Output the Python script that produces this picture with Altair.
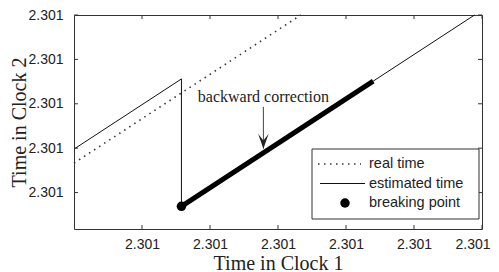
import altair as alt
import pandas as pd

# ---- data (axis units: tick k <-> k-th tick) ----
real_x = [0.0, 3.336]
real_y = [1.664, 5.0]

est_x = [0.0, 1.58, 1.58, 4.40, 5.89]
est_y = [1.98, 3.56, 0.69, 3.51, 5.0]

bold_x = [1.58, 4.40]
bold_y = [0.69, 3.51]

break_x = [1.58]
break_y = [0.69]

x_ticks = [1, 2, 3, 4, 5, 6]
y_ticks = [1, 2, 3, 4, 5]
tick_label = "2.301"

annot_text = ["backward correction"]
annot_x = [2.785]
annot_y = [3.05]
arrow_x = [2.785, 2.785]
arrow_y = [2.93, 1.99]

legend_labels = ["real time", "estimated time", "breaking point"]

W, H = 408, 214
XDOM = [0, 6]
YDOM = [0.18, 5]
LINE = "#111111"

xs = alt.Scale(domain=XDOM, nice=False, zero=False)
ys = alt.Scale(domain=YDOM, nice=False, zero=False)

xaxis = alt.Axis(values=x_ticks, labelExpr=f"'{tick_label}'", title="Time in Clock 1",
                 ticks=False, domain=False, grid=False, labelPadding=8,
                 labelFont="Liberation Sans", labelFontSize=14, labelColor="#222",
                 labelFlush=True, labelFlushOffset=8, labelOverlap=False, labelBound=False,
                 titleFont="Liberation Serif", titleFontSize=20, titleFontWeight="normal",
                 titleColor="#222", titlePadding=2)
yaxis = alt.Axis(values=y_ticks, labelExpr=f"'{tick_label}'", title="Time in Clock 2",
                 ticks=False, domain=False, grid=False, labelPadding=11,
                 labelFont="Liberation Sans", labelFontSize=14, labelColor="#222",
                 labelFlush=False, labelOverlap=False, labelBound=False,
                 titleFont="Liberation Serif", titleFontSize=20, titleFontWeight="normal",
                 titleColor="#222", titlePadding=-2)

real_df = pd.DataFrame({"x": real_x, "y": real_y, "o": range(len(real_x))})
est_df = pd.DataFrame({"x": est_x, "y": est_y, "o": range(len(est_x))})
bold_df = pd.DataFrame({"x": bold_x, "y": bold_y, "o": range(len(bold_x))})
brk_df = pd.DataFrame({"x": break_x, "y": break_y})
ann_df = pd.DataFrame({"x": annot_x, "y": annot_y, "t": annot_text})
arr_df = pd.DataFrame({"x": arrow_x, "y": arrow_y, "o": range(len(arrow_x))})
arr_tip = pd.DataFrame({"x": [arrow_x[-1]], "y": [arrow_y[-1]]})
xt_df = pd.DataFrame({"x": x_ticks})
yt_df = pd.DataFrame({"y": y_ticks})

real = alt.Chart(real_df).mark_line(color="#333", strokeWidth=1.6, strokeDash=[1.5, 4.5]).encode(
    x=alt.X("x:Q", scale=xs, axis=xaxis), y=alt.Y("y:Q", scale=ys, axis=yaxis), order="o:Q")
est = alt.Chart(est_df).mark_line(color=LINE, strokeWidth=1).encode(
    x=alt.X("x:Q", scale=xs), y=alt.Y("y:Q", scale=ys), order="o:Q")
bold = alt.Chart(bold_df).mark_line(color="#000", strokeWidth=5).encode(
    x=alt.X("x:Q", scale=xs), y=alt.Y("y:Q", scale=ys), order="o:Q")
brk = alt.Chart(brk_df).mark_point(filled=True, color="#000", size=90, opacity=1).encode(
    x=alt.X("x:Q", scale=xs), y=alt.Y("y:Q", scale=ys))
ann = alt.Chart(ann_df).mark_text(font="Liberation Serif", fontSize=16, color="#222",
                                  baseline="alphabetic", align="center").encode(
    x=alt.X("x:Q", scale=xs), y=alt.Y("y:Q", scale=ys), text="t:N")
arr = alt.Chart(arr_df).mark_line(color="#444", strokeWidth=1).encode(
    x=alt.X("x:Q", scale=xs), y=alt.Y("y:Q", scale=ys), order="o:Q")
head = alt.Chart(arr_tip).mark_point(shape="M0,0L-0.7,-2L0,-1.1L0.7,-2Z", filled=True,
                                     color="#222", size=225, opacity=1).encode(
    x=alt.X("x:Q", scale=xs), y=alt.Y("y:Q", scale=ys))

tb = alt.Chart(xt_df).mark_rule(color="#333").encode(
    x=alt.X("x:Q", scale=xs), y=alt.value(H), y2=alt.value(H - 4))
tt = alt.Chart(xt_df).mark_rule(color="#333").encode(
    x=alt.X("x:Q", scale=xs), y=alt.value(0), y2=alt.value(4))
tl = alt.Chart(yt_df).mark_rule(color="#333").encode(
    y=alt.Y("y:Q", scale=ys), x=alt.value(0), x2=alt.value(4))
tr = alt.Chart(yt_df).mark_rule(color="#333").encode(
    y=alt.Y("y:Q", scale=ys), x=alt.value(W), x2=alt.value(W - 4))

# ---- legend (drawn by hand) ----
one = alt.Data(values=[{}])
LX0, LX1, LY0, LY1 = 238, 405, 134, 204
row_y = [149, 168.5, 188]
box = alt.Chart(one).mark_rect(fill="white", stroke="#333", strokeWidth=1).encode(
    x=alt.value(LX0), x2=alt.value(LX1), y=alt.value(LY0), y2=alt.value(LY1))
lg_dot = alt.Chart(one).mark_rule(color="#333", strokeWidth=1.6, strokeDash=[1.5, 4.5]).encode(
    x=alt.value(244), x2=alt.value(287), y=alt.value(row_y[0]))
lg_line = alt.Chart(one).mark_rule(color=LINE, strokeWidth=1).encode(
    x=alt.value(246), x2=alt.value(291), y=alt.value(row_y[1]))
lg_pt = alt.Chart(one).mark_point(filled=True, color="#000", size=90, opacity=1).encode(
    x=alt.value(271), y=alt.value(row_y[2]))
lg_txt = [alt.Chart(one).mark_text(font="Liberation Sans", fontSize=14.5, color="#222",
                                   align="left", baseline="middle").encode(
    x=alt.value(295), y=alt.value(ry), text=alt.value(lab))
    for lab, ry in zip(legend_labels, row_y)]

chart = alt.layer(real, est, bold, brk, ann, arr, head, tb, tt, tl, tr,
                  box, lg_dot, lg_line, lg_pt, *lg_txt).properties(
    width=W, height=H,
    autosize=alt.AutoSizeParams(type="none"),
    padding={"left": 66, "top": 7, "right": 9, "bottom": 47},
).configure_view(stroke="#333", strokeWidth=1)

chart.save("out.html", embed_options={"renderer": "svg", "actions": False})
